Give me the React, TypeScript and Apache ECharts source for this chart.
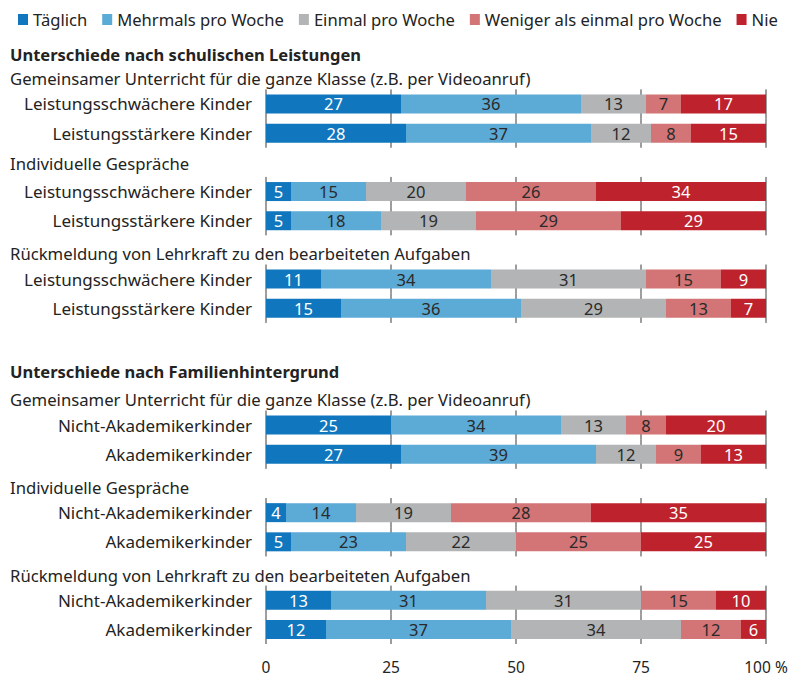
import React, { useEffect, useRef } from "react";
import * as echarts from "echarts";

// ---------- data ----------
const categories = [
  "Täglich",
  "Mehrmals pro Woche",
  "Einmal pro Woche",
  "Weniger als einmal pro Woche",
  "Nie",
];
const colors = ["#1077be", "#5caad6", "#b2b4b5", "#d37576", "#be222c"];
const labelColors = ["#ffffff", "#2a2a2a", "#2a2a2a", "#2a2a2a", "#ffffff"];

const sectionTitles = [
  "Unterschiede nach schulischen Leistungen",
  "Unterschiede nach Familienhintergrund",
];
const topicTitles = [
  "Gemeinsamer Unterricht für die ganze Klasse (z.B. per Videoanruf)",
  "Individuelle Gespräche",
  "Rückmeldung von Lehrkraft zu den bearbeiteten Aufgaben",
];
const leistungLabels = ["Leistungsschwächere Kinder", "Leistungsstärkere Kinder"];
const familieLabels = ["Nicht-Akademikerkinder", "Akademikerkinder"];

// values per topic: [first group row, second group row], each [Täglich, Mehrmals, Einmal, Weniger, Nie]
const leistungGemeinsam = [
  [27, 36, 13, 7, 17],
  [28, 37, 12, 8, 15],
];
const leistungGespraeche = [
  [5, 15, 20, 26, 34],
  [5, 18, 19, 29, 29],
];
const leistungRueckmeldung = [
  [11, 34, 31, 15, 9],
  [15, 36, 29, 13, 7],
];
const familieGemeinsam = [
  [25, 34, 13, 8, 20],
  [27, 39, 12, 9, 13],
];
const familieGespraeche = [
  [4, 14, 19, 28, 35],
  [5, 23, 22, 25, 25],
];
const familieRueckmeldung = [
  [13, 31, 31, 15, 10],
  [12, 37, 34, 12, 6],
];
const xTicks = [0, 25, 50, 75, 100];

// ---------- row table ----------
type Row = { type: "header" | "topic" | "bar" | "blank"; label: string; values?: number[]; section: number; topic: number };

function buildRows(): Row[] {
  const sections = [
    { title: sectionTitles[0], labels: leistungLabels, topics: [leistungGemeinsam, leistungGespraeche, leistungRueckmeldung] },
    { title: sectionTitles[1], labels: familieLabels, topics: [familieGemeinsam, familieGespraeche, familieRueckmeldung] },
  ];
  const rows: Row[] = [];
  sections.forEach((s, si) => {
    if (si > 0) rows.push({ type: "blank", label: "", section: si, topic: -1 });
    rows.push({ type: "header", label: s.title, section: si, topic: -1 });
    s.topics.forEach((t, ti) => {
      rows.push({ type: "topic", label: topicTitles[ti], section: si, topic: ti });
      t.forEach((vals, gi) => rows.push({ type: "bar", label: s.labels[gi], values: vals, section: si, topic: ti }));
    });
  });
  return rows;
}

const FONT = "'Noto Sans', sans-serif";
const TEXT = "#232323";

export default function App() {
  const ref = useRef<HTMLDivElement>(null);

  useEffect(() => {
    if (!ref.current) return;
    const chart = echarts.init(ref.current, undefined, { renderer: "svg" });
    const rows = buildRows();
    const keys = rows.map((_, i) => String(i));
    const barRowIdx = rows.map((r, i) => (r.type === "bar" ? i : -1)).filter((i) => i >= 0);

    const barSeries = categories.map((name, j) => ({
      name,
      type: "bar",
      stack: "total",
      barWidth: 19,
      yAxisIndex: 0,
      z: 3,
      itemStyle: { color: colors[j] },
      label: {
        show: true,
        position: "inside",
        color: labelColors[j],
        fontSize: 16.5,
        fontFamily: FONT,
        formatter: (p: any) => String(p.value),
      },
      data: rows.map((r) => (r.type === "bar" ? r.values![j] : null)),
    }));

    const gridSeries = {
      type: "custom",
      name: "grid",
      yAxisIndex: 0,
      z: 1,
      silent: true,
      encode: { x: 0, y: 1 },
      data: barRowIdx.map((i) => [0, i]),
      renderItem: (params: any, api: any) => {
        const yIdx = api.value(1);
        const c = api.coord([0, yIdx]);
        const band = api.size([0, 1])[1];
        const children = xTicks.map((t) => {
          const p = api.coord([t, yIdx]);
          return {
            type: "line",
            shape: { x1: p[0], y1: c[1] - band / 2, x2: p[0], y2: c[1] + band / 2 },
            style: { stroke: "#3a3a3a", lineWidth: 1 },
          };
        });
        return { type: "group", children };
      },
    };

    chart.setOption({
      animation: false,
      textStyle: { fontFamily: FONT },
      legend: {
        data: categories,
        left: 13,
        top: 6,
        icon: "rect",
        itemWidth: 10,
        itemHeight: 11,
        itemGap: 15,
        textStyle: { fontSize: 16.6, color: TEXT, fontFamily: FONT },
      },
      grid: { left: 266, right: 42, top: 31, bottom: 34, containLabel: false },
      xAxis: {
        type: "value",
        min: 0,
        max: 100,
        interval: 25,
        axisLine: { show: false },
        axisTick: { show: false },
        splitLine: { show: false },
        axisLabel: {
          fontSize: 15.5,
          color: TEXT,
          fontFamily: FONT,
          margin: 15,
          formatter: (v: number) => (v === 100 ? "100 %" : String(v)),
        },
      },
      yAxis: [
        {
          type: "category",
          data: keys,
          inverse: true,
          axisLine: { show: false },
          axisTick: { show: false },
          axisLabel: {
            interval: 0,
            margin: 14,
            fontSize: 17,
            color: TEXT,
            fontFamily: FONT,
            formatter: (_v: string, i: number) => (rows[i].type === "bar" ? rows[i].label : ""),
          },
        },
        {
          type: "category",
          data: keys,
          inverse: true,
          position: "left",
          axisLine: { show: false },
          axisTick: { show: false },
          axisLabel: {
            interval: 0,
            margin: 256,
            align: "left",
            fontSize: 17,
            color: TEXT,
            fontFamily: FONT,
            formatter: (_v: string, i: number) => {
              const r = rows[i];
              if (r.type === "header") return (r.section === 0 ? "{h0|" : "{h1|") + r.label + "}";
              if (r.type === "topic") return (r.topic === 1 && r.section === 0 ? "{t1|" : "{t|") + r.label + "}";
              return "";
            },
            rich: {
              h0: { fontSize: 16.5, fontWeight: "bold", color: TEXT, fontFamily: FONT, align: "left", padding: [18, 0, 0, 0] },
              h1: { fontSize: 16.5, fontWeight: "bold", color: TEXT, fontFamily: FONT, align: "left", padding: [9, 0, 0, 0] },
              t: { fontSize: 16.7, color: TEXT, fontFamily: FONT, align: "left", padding: [8, 0, 0, 0] },
              t1: { fontSize: 16.7, color: TEXT, fontFamily: FONT, align: "left", padding: [2, 0, 0, 0] },
            },
          },
        },
      ],
      series: [gridSeries, ...barSeries],
    });
    return () => chart.dispose();
  }, []);

  return <div ref={ref} style={{ position: "absolute", left: 0, top: 0, width: 808, height: 678 }} />;
}
